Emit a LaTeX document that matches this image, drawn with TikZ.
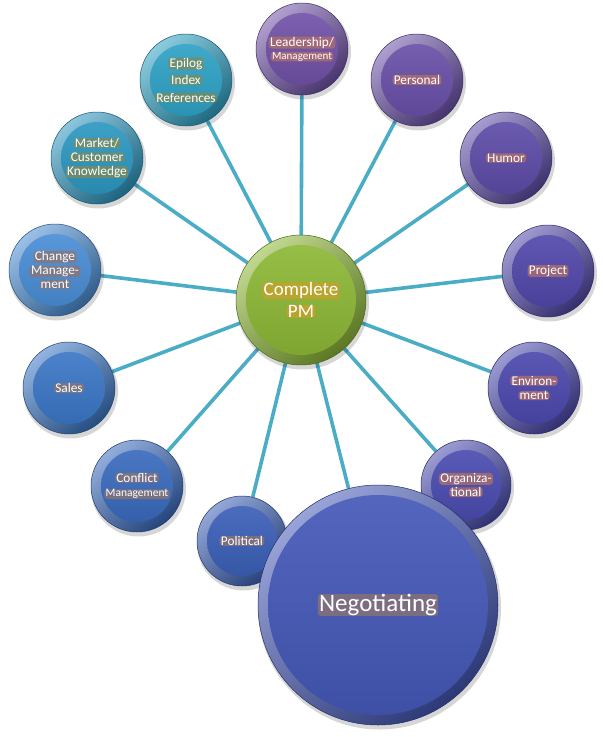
\documentclass[tikz,border=0pt]{standalone}
\usepackage{fontspec}
\setmainfont{Carlito}
\usetikzlibrary{backgrounds}
\definecolor{conncol}{HTML}{4BACC6}
\definecolor{cTeal}{HTML}{2FA2C6}
\definecolor{cTealB}{HTML}{2D98C2}
\definecolor{cChange}{HTML}{4A8ED6}
\definecolor{cSales}{HTML}{3B77C6}
\definecolor{cConf}{HTML}{3A6BBE}
\definecolor{cPol}{HTML}{3C60B8}
\definecolor{cNeg}{HTML}{4558B8}
\definecolor{cOrg}{HTML}{4A4CB0}
\definecolor{cEnv}{HTML}{4C49AE}
\definecolor{cProj}{HTML}{5148AA}
\definecolor{cHum}{HTML}{5E4CA8}
\definecolor{cPers}{HTML}{6A50A8}
\definecolor{cLead}{HTML}{7152A8}
\definecolor{cPM}{HTML}{8DB836}
\definecolor{hBlue}{HTML}{8E7470}
\definecolor{hTeal}{HTML}{7E8A58}
\definecolor{hPurp}{HTML}{B0706A}
\definecolor{hGold}{HTML}{C9A02A}
\newcommand\ct[1]{\tikz[baseline=(t.base)]\node[rectangle,minimum size=0pt,fill=halo,draw=none,fill opacity=.75,text opacity=1,rounded corners=3pt,inner xsep=1.3pt,inner ysep=0.2pt,outer sep=0pt] (t) {#1};}
\tikzset{
  conn/.style={draw=conncol,line width=3.6pt},
  bubtext/.style={circle,inner sep=0pt,text=white,align=center}
}
% #1 name, #2 x, #3 y, #4 r, #5 colour, #6 halo, #7 font, #8 text
\newcommand\bub[8]{%
  \fill[black,opacity=.16] ({#2+1.5},{#3+3}) circle ({#4+1.5});
  \shade[top color=#5!55!white,bottom color=#5!65!black,shading angle=40] (#2,#3) circle (#4);
  \shade[top color=#5!92!white,bottom color=#5!90!black] (#2,#3) circle ({#4-10});
  \draw[#5!55!black,line width=.5pt] (#2,#3) circle (#4);
  \colorlet{halo}{#6}%
  \node[bubtext,font=#7,minimum size={2*#4 pt}] (#1) at (#2,#3) {#8};
}
\begin{document}
\begin{tikzpicture}[x=1pt,y=-1pt]
\useasboundingbox (0,0) rectangle (603,737);
\bub{pm}{301}{300}{65}{cPM}{hGold}{\fontsize{19}{21.5}\selectfont}{\ct{Complete}\\\ct{PM}}
\bub{lead}{302}{49}{46}{cLead}{hPurp}{\fontsize{13.3}{13}\selectfont}{\ct{Leadership/}\\\ct{\fontsize{11}{12}\selectfont Management}}
\bub{pers}{417}{80}{46}{cPers}{hPurp}{\fontsize{13.3}{14.5}\selectfont}{\ct{Personal}}
\bub{hum}{506}{158}{46}{cHum}{hPurp}{\fontsize{13.3}{14.5}\selectfont}{\ct{Humor}}
\bub{proj}{548}{271}{46}{cProj}{hPurp}{\fontsize{13.3}{14.5}\selectfont}{\ct{Project}}
\bub{env}{534}{388}{46}{cEnv}{hPurp}{\fontsize{13.3}{14.5}\selectfont}{\ct{Environ-}\\\ct{ment}}
\bub{org}{466}{485}{45}{cOrg}{hPurp}{\fontsize{13.3}{14.5}\selectfont}{\ct{Organiza-}\\\ct{tional}}
\bub{pol}{242}{541}{45}{cPol}{hBlue}{\fontsize{13.3}{14.5}\selectfont}{\ct{Political}}
\bub{conf}{137}{486}{46}{cConf}{hBlue}{\fontsize{13.3}{14.5}\selectfont}{\ct{Conflict}\\\ct{\fontsize{11.5}{12}\selectfont Management}}
\bub{sales}{69}{388}{46}{cSales}{hBlue}{\fontsize{13.3}{14.5}\selectfont}{\ct{Sales}}
\bub{chg}{55}{270}{46}{cChange}{hBlue}{\fontsize{13.3}{14}\selectfont}{\ct{Change}\\\ct{Manage-}\\\ct{ment}}
\bub{mkt}{97}{158}{46}{cTealB}{hTeal}{\fontsize{13.3}{14}\selectfont}{\ct{Market/}\\\ct{Customer}\\\ct{Knowledge}}
\bub{epi}{186}{80}{46}{cTeal}{hTeal}{\fontsize{13.3}{17.5}\selectfont}{\ct{Epilog}\\\ct{Index}\\\ct{References}}
\bub{neg}{378}{605}{120}{cNeg}{hBlue}{\fontsize{25}{28}\selectfont}{\ct{Negotiating}}
\begin{scope}[on background layer]
\foreach \t in {lead,pers,hum,proj,env,org,neg,pol,conf,sales,chg,mkt,epi}
  \draw[conn] (pm) -- (\t);
\end{scope}
\end{tikzpicture}
\end{document}
